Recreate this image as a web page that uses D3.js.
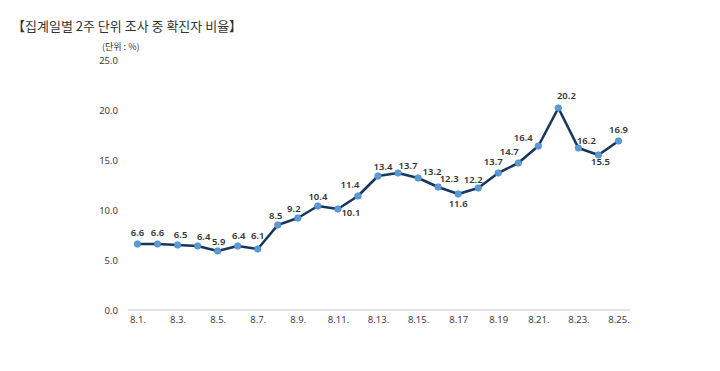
<!DOCTYPE html>
<html>
<head>
<meta charset="utf-8">
<script src="https://cdn.jsdelivr.net/npm/d3@7"></script>
<style>
  body { margin: 0; background: #fff; }
  svg { display: block; }
</style>
</head>
<body>
<script>
// chart data
var dates = ["8.1", "8.2", "8.3", "8.4", "8.5", "8.6", "8.7", "8.8", "8.9", "8.10",
             "8.11", "8.12", "8.13", "8.14", "8.15", "8.16", "8.17", "8.18", "8.19",
             "8.20", "8.21", "8.22", "8.23", "8.24", "8.25"];
var ratio = [6.6, 6.6, 6.5, 6.4, 5.9, 6.4, 6.1, 8.5, 9.2, 10.4, 10.1, 11.4, 13.4, 13.7,
             13.2, 12.3, 11.6, 12.2, 13.7, 14.7, 16.4, 20.2, 16.2, 15.5, 16.9];
// only every second date carries a tick label, written as in the source
var tickLabels = {
  "8.1": "8.1.", "8.3": "8.3.", "8.5": "8.5.", "8.7": "8.7.", "8.9": "8.9.",
  "8.11": "8.11.", "8.13": "8.13.", "8.15": "8.15.", "8.17": "8.17", "8.19": "8.19",
  "8.21": "8.21.", "8.23": "8.23.", "8.25": "8.25."
};
var yTicks = [0, 5, 10, 15, 20, 25];

// nudges for the value labels so they don't sit on the line
var labelNudge = [[0,-11],[0,-11],[3,-10],[6,-9],[1,-9],[1,-10],[0,-13],[-2,-9],[-4,-9],[0,-9],
                  [13,4],[-8,-11],[5,-9],[10,-7],[14,-6],[11,-8],[0,10],[-5,-8],[-5,-11],
                  [-9,-11],[-15,-8],[8,-12],[8,-7],[2,7],[0,-11]];

var W = 720, H = 371;

var svg = d3.select("body").append("svg")
    .attr("width", W)
    .attr("height", H);

// title
svg.append("text")
    .attr("x", 12)
    .attr("y", 31)
    .style("font-family", "'Noto Sans CJK KR', sans-serif")
    .style("font-size", "13px")
    .style("font-weight", "400")
    .style("fill", "#333")
    .text("【집계일별 2주 단위 조사 중 확진자 비율】");

svg.append("text")
    .attr("x", 102)
    .attr("y", 50)
    .style("font-family", "'Noto Sans CJK KR', sans-serif")
    .style("font-size", "9px")
    .style("fill", "#333")
    .text("(단위 : %)");

var x = d3.scalePoint()
    .domain(dates)
    .range([137.5, 618.5]);

var y = d3.scaleLinear()
    .domain([0, 25])
    .range([310, 60]);

// y axis labels (no line)
var yAxis = d3.axisLeft(y)
    .tickValues(yTicks)
    .tickFormat(d3.format(".1f"))
    .tickSize(0)
    .tickPadding(0);

var gy = svg.append("g")
    .attr("transform", "translate(118,0)")
    .call(yAxis);
gy.select(".domain").remove();
gy.selectAll("text")
    .style("font-family", "'Noto Sans', sans-serif")
    .style("font-size", "9.5px")
    .style("fill", "#404040");

// baseline
svg.append("line")
    .attr("x1", 128)
    .attr("x2", 630)
    .attr("y1", y(0))
    .attr("y2", y(0))
    .style("stroke", "#d9d9d9")
    .style("stroke-width", 1.5);

// x axis labels
var xAxis = d3.axisBottom(x)
    .tickValues(dates.filter(function(d) { return tickLabels[d]; }))
    .tickFormat(function(d) { return tickLabels[d]; })
    .tickSize(0)
    .tickPadding(6);

var gx = svg.append("g")
    .attr("transform", "translate(0," + y(0) + ")")
    .call(xAxis);
gx.select(".domain").remove();
gx.selectAll("text")
    .style("font-family", "'Noto Sans', sans-serif")
    .style("font-size", "9.5px")
    .style("fill", "#404040");

// line
var line = d3.line()
    .x(function(d, i) { return x(dates[i]); })
    .y(function(d) { return y(d); });

svg.append("path")
    .datum(ratio)
    .attr("d", line)
    .style("fill", "none")
    .style("stroke", "#17365d")
    .style("stroke-width", 2.6)
    .style("stroke-linejoin", "round");

// markers
svg.selectAll("circle.pt")
    .data(ratio)
    .enter().append("circle")
    .attr("class", "pt")
    .attr("cx", function(d, i) { return x(dates[i]); })
    .attr("cy", function(d) { return y(d); })
    .attr("r", 3.3)
    .style("fill", "#5b9bd5")
    .style("stroke", "#4a86c0")
    .style("stroke-width", 0.6);

// value labels
svg.selectAll("text.val")
    .data(ratio)
    .enter().append("text")
    .attr("class", "val")
    .attr("x", function(d, i) { return x(dates[i]) + labelNudge[i][0]; })
    .attr("y", function(d, i) { return y(d) + labelNudge[i][1]; })
    .attr("dy", "0.35em")
    .style("text-anchor", "middle")
    .style("font-family", "'Noto Sans', sans-serif")
    .style("font-size", "9.5px")
    .style("font-weight", "600")
    .style("fill", "#333")
    .text(function(d) { return d3.format(".1f")(d); });
</script>
</body>
</html>
